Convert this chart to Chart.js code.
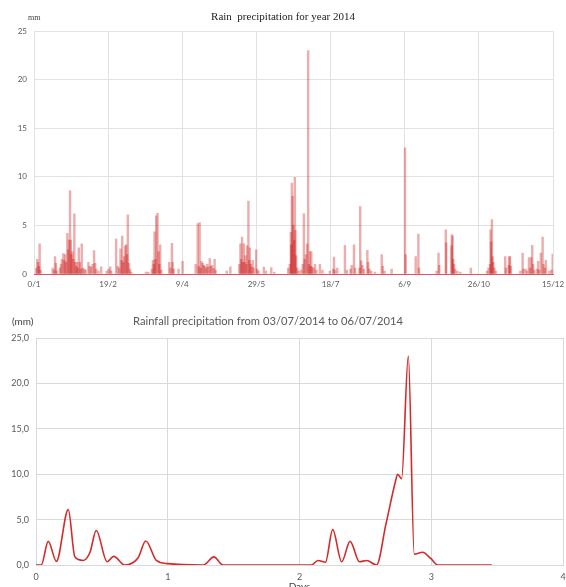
<!DOCTYPE html>
<html>
<head>
<meta charset="utf-8">
<script src="https://cdn.jsdelivr.net/npm/chart.js@4.4.1/dist/chart.umd.min.js"></script>
<style>
html, body { margin: 0; padding: 0; background: #fff; overflow: hidden; width: 566px; height: 587px; }
.box { position: absolute; left: 0; width: 566px; }
#topBox { top: 0; height: 296px; }
#bottomBox { top: 296px; height: 304px; }
.unit { position: absolute; color: #404040; white-space: nowrap; }
#topUnit { left: 28px; top: 13px; font: 8px 'Liberation Serif', serif; }
#bottomUnit { left: 12px; top: 315px; font: 10px Lato, sans-serif; }
#bottomTitle { position: absolute; left: 0; width: 536px; top: 314px; text-align: center;
    font: 11.2px Lato, sans-serif; color: #595959; white-space: nowrap; }
</style>
</head>
<body>
<div class="box" id="topBox"><canvas id="yearChart" width="566" height="296"></canvas></div>
<div class="box" id="bottomBox"><canvas id="daysChart" width="566" height="304"></canvas></div>
<div class="unit" id="topUnit">mm</div>
<div class="unit" id="bottomUnit">(mm)</div>
<div id="bottomTitle">Rainfall precipitation from 03/07/2014 to 06/07/2014</div>

<script>
// ── Data: year 2014 (day of year, mm) ──────────────────────────────────────
const dateLabels = ['0/1', '19/2', '9/4', '29/5', '18/7', '6/9', '26/10', '15/12'];

const yearDays = [
    1.5, 2.2, 2.8, 3.4, 3.8, 4.5,
    12.6, 13.5, 14.2, 14.8, 15.5,
    17.5, 18.2, 18.8, 19.8, 20.4, 21.0, 21.6, 22.5, 23.0, 23.6, 24.3, 24.8, 25.2, 25.9, 26.5,
    27.2, 27.8, 28.5, 29.0, 29.5, 30.2, 31.0, 31.5, 32.2, 33.0, 34.0, 34.8,
    36.7, 37.5, 38.5, 39.5, 40.5, 41.2, 42.0, 43.5, 45.3,
    49.0, 50.3, 51.4, 52.0,
    55.4, 56.5, 57.5, 58.3, 59.0, 59.5, 60.2, 60.8, 61.5, 62.2, 62.8, 63.3, 64.0, 64.8, 65.5,
    75.5, 77.0,
    79.5, 80.2, 80.8, 81.3, 81.8, 82.4, 83.3, 84.0, 84.5, 85.1, 85.8,
    91.2, 92.0, 93.0, 93.5, 94.2, 97.5, 100.2,
    109.0, 110.4, 111.0, 111.7, 112.3, 113.0, 113.8, 114.5, 115.3, 116.0, 116.8, 117.5, 118.5,
    119.2, 120.0, 121.0, 121.8, 122.5,
    130.0, 132.4,
    138.5, 139.2, 139.8, 140.3, 140.8, 141.5, 142.0, 142.6, 143.2, 143.7, 144.6, 145.2, 145.5,
    146.2, 146.8, 147.5, 148.3, 149.8, 150.5, 151.5,
    155.0, 156.5, 160.0, 162.0,
    171.4, 172.5, 173.2, 173.5, 173.9, 174.4, 174.9, 175.4, 175.9, 176.3, 176.8, 177.5, 178.5,
    180.0, 181.2, 182.0, 182.5, 183.3, 184.2, 184.9, 185.4, 186.0, 186.5, 187.0, 187.6, 188.5,
    189.5, 190.5, 192.8, 194.5,
    199.5, 201.8, 202.3, 203.0, 204.5,
    209.7, 211.0, 213.5, 214.2, 215.8, 216.5, 219.5, 220.0, 220.6, 221.5, 222.5, 224.8, 225.4,
    226.2, 227.5, 230.0,
    234.5, 235.2, 236.5, 241.2,
    250.2, 250.6,
    257.4, 259.2, 259.6,
    271.5, 272.8, 273.3, 277.7, 278.0, 281.5, 281.8, 282.3, 282.7, 283.3, 284.0, 285.5, 287.5, 294.6,
    305.5, 306.5, 307.5, 307.9, 308.3, 308.8, 309.3, 309.8, 310.5, 311.5,
    317.8, 318.3, 320.0, 320.5, 321.0, 321.6, 328.0, 329.5, 330.0, 331.5, 332.5, 333.8, 334.5,
    335.3, 336.0, 336.6, 337.5, 339.3, 340.0, 340.6, 341.8, 343.0, 343.6, 344.5, 345.2, 347.5,
    349.0, 349.8
];

const yearMm = [
    0.6, 1.5, 1.2, 0.8, 3.1, 0.4,
    0.6, 0.4, 1.8, 1.1, 0.3,
    0.6, 1.0, 1.5, 2.1, 1.4, 2.0, 1.2, 4.2, 2.5, 3.5, 8.6, 3.5, 2.0, 2.3, 1.5,
    6.2, 1.2, 0.8, 1.2, 0.6, 2.7, 1.2, 0.5, 3.1, 0.6, 0.5, 0.4,
    1.2, 0.8, 0.7, 1.0, 2.4, 1.1, 0.5, 0.3, 0.75,
    0.3, 0.5, 0.75, 0.3,
    3.6, 0.8, 0.6, 2.6, 1.4, 3.9, 1.2, 1.8, 2.9, 3.0, 2.0, 6.1, 1.1, 0.5, 0.2,
    0.2, 0.2,
    0.5, 1.4, 1.0, 4.35, 1.5, 6.0, 6.25, 2.3, 1.0, 3.0, 0.4,
    1.2, 0.6, 3.15, 1.2, 0.5, 0.5, 1.3,
    1.0, 5.2, 0.8, 5.3, 0.6, 1.3, 1.1, 0.9, 0.8, 0.6, 1.0, 0.7, 1.6,
    0.8, 0.9, 0.6, 1.5, 0.4,
    0.3, 0.75,
    1.0, 3.1, 1.5, 3.8, 1.2, 3.1, 1.2, 1.9, 1.0, 2.9, 7.5, 1.4, 2.7,
    1.0, 0.7, 1.4, 0.6, 2.5, 0.5, 0.3,
    0.7, 0.3, 0.65, 0.2,
    0.6, 1.0, 4.3, 3.0, 9.35, 8.0, 5.0, 3.5, 9.95, 4.5, 1.9, 0.6, 0.3,
    0.4, 1.0, 6.2, 1.5, 2.0, 3.1, 23.0, 1.0, 2.3, 0.8, 2.3, 0.7, 0.6,
    1.0, 0.4, 1.0, 0.4,
    0.3, 0.5, 1.75, 0.4, 0.6,
    2.95, 0.4, 0.5, 0.9, 3.0, 0.6, 0.6, 6.95, 1.35, 0.9, 0.5, 2.45, 1.2,
    0.5, 0.3, 0.2,
    2.0, 0.8, 0.3, 0.5,
    13.0, 2.0,
    1.8, 4.1, 0.6,
    0.3, 2.15, 0.9, 4.55, 3.2, 2.9, 4.05, 3.9, 1.5, 1.0, 0.5, 0.3, 0.2, 0.6,
    0.3, 0.6, 1.0, 4.55, 3.3, 5.6, 1.8, 1.2, 0.6, 0.3,
    1.8, 0.6, 0.9, 1.8, 1.8, 0.8, 0.3, 2.15, 0.5, 0.5, 0.3, 1.7, 0.6,
    1.7, 2.95, 1.0, 0.4, 0.5, 1.3, 0.4, 2.15, 3.8, 1.0, 0.6, 1.4, 0.3,
    0.4, 2.05
];

// ── Data: 03/07/2014 to 06/07/2014 (days since start, mm) ──────────────────
const stormDays = [
    0, 0.04, 0.093, 0.155, 0.245, 0.295, 0.358, 0.41, 0.457, 0.54, 0.59, 0.674, 0.775, 0.833,
    0.914, 1.0, 1.27, 1.35, 1.42, 2.09, 2.14, 2.197, 2.252, 2.32, 2.384, 2.455, 2.51, 2.585,
    2.656, 2.73, 2.745, 2.775, 2.826, 2.871, 2.934, 2.998, 3.05, 3.46
];
const stormMm = [
    0, 0, 2.6, 0.4, 6.1, 0.9, 0.5, 1.4, 3.8, 0.35, 0.95, 0, 0.8, 2.65,
    0.5, 0.15, 0, 0.9, 0, 0, 0.5, 0.3, 3.9, 0.35, 2.6, 0.35, 0.5, 0,
    4.5, 9.3, 10.0, 9.5, 23.0, 1.2, 1.4, 0.7, 0, 0
];

const GRID = '#e2e2e2';
const TICK = '#595959';

function toPoints(xs, ys) {
    return xs.map((x, i) => ({ x: x, y: ys[i] }));
}

function renderYearChart() {
    const ctx = document.getElementById('yearChart').getContext('2d');
    new Chart(ctx, {
        type: 'bar',
        data: {
            datasets: [{
                data: toPoints(yearDays, yearMm),
                backgroundColor: 'rgba(200,0,0,0.32)',
                borderWidth: 0,
                barThickness: 1.8
            }]
        },
        options: {
            responsive: false,
            animation: false,
            layout: { padding: 0 },
            plugins: {
                legend: { display: false },
                tooltip: { enabled: false },
                title: {
                    display: true,
                    text: 'Rain  precipitation for year 2014',
                    color: '#222',
                    font: { family: 'Liberation Serif', size: 11, weight: 'normal' },
                    padding: { top: 11, bottom: 7 }
                }
            },
            scales: {
                x: {
                    type: 'linear',
                    min: 0,
                    max: 350,
                    offset: false,
                    grid: { color: GRID, offset: false, drawTicks: false },
                    border: { color: 'rgba(200,0,0,0.6)', width: 1 },
                    ticks: {
                        stepSize: 50,
                        padding: 6,
                        color: TICK,
                        maxRotation: 0,
                        font: { family: 'Lato', size: 8 },
                        callback: v => dateLabels[Math.round(v / 50)]
                    },
                    afterFit: s => { s.height = 22; s.paddingRight = 13; }
                },
                y: {
                    min: 0,
                    max: 25,
                    grid: { color: GRID, drawTicks: false },
                    border: { display: false },
                    ticks: { stepSize: 5, padding: 7, color: TICK, font: { family: 'Lato', size: 8 } },
                    afterFit: s => { s.width = 34; }
                }
            }
        }
    });
}

function renderStormChart() {
    const ctx = document.getElementById('daysChart').getContext('2d');
    new Chart(ctx, {
        type: 'line',
        data: {
            datasets: [{
                data: toPoints(stormDays, stormMm),
                borderColor: '#d42a2a',
                borderWidth: 1.6,
                pointRadius: 0,
                fill: false,
                cubicInterpolationMode: 'monotone'
            }]
        },
        options: {
            responsive: false,
            animation: false,
            layout: { padding: { top: 42, left: 0, right: 0, bottom: 0 } },
            plugins: {
                legend: { display: false },
                tooltip: { enabled: false }
            },
            scales: {
                x: {
                    type: 'linear',
                    min: 0,
                    max: 4,
                    grid: { color: '#d9d9d9', drawTicks: false },
                    border: { color: '#d9d9d9' },
                    ticks: { stepSize: 1, padding: 7, color: TICK, font: { family: 'Lato', size: 9 } },
                    title: {
                        display: true,
                        text: 'Days',
                        color: '#404040',
                        font: { family: 'Lato', size: 10 },
                        padding: { top: 0, bottom: 7 }
                    },
                    afterFit: s => { s.height = 35; s.paddingRight = 3; }
                },
                y: {
                    min: 0,
                    max: 25,
                    grid: { color: '#d9d9d9', drawTicks: false },
                    border: { display: false },
                    ticks: {
                        stepSize: 5,
                        padding: 7,
                        color: TICK,
                        font: { family: 'Lato', size: 9 },
                        callback: v => v.toFixed(1).replace('.', ',')
                    },
                    afterFit: s => { s.width = 36; }
                }
            }
        }
    });
}

renderYearChart();
renderStormChart();
</script>
</body>
</html>
